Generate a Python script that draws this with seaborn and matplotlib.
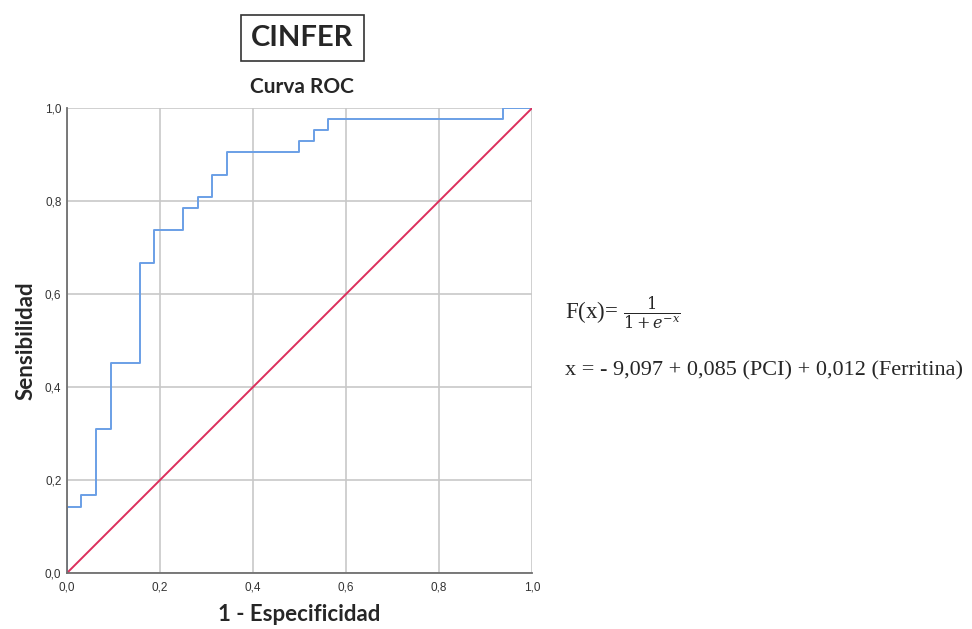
import matplotlib
matplotlib.use('Agg')
import matplotlib.pyplot as plt
import pandas as pd
import seaborn as sns
from matplotlib.ticker import FuncFormatter

# ROC curve (corner points, steps-post)
fpr = [0.0, 0.0, 0.031, 0.062, 0.094, 0.156, 0.188, 0.25, 0.281,
       0.312, 0.344, 0.5, 0.531, 0.562, 0.938, 1.0]
tpr = [0.0, 0.143, 0.167, 0.31, 0.452, 0.667, 0.738, 0.786, 0.81,
       0.857, 0.905, 0.929, 0.952, 0.976, 1.0, 1.0]

# reference diagonal
ref_x = [0.0, 1.0]
ref_y = [0.0, 1.0]

ticks = [0.0, 0.2, 0.4, 0.6, 0.8, 1.0]

roc = pd.DataFrame({'fpr': fpr, 'tpr': tpr})
diag = pd.DataFrame({'x': ref_x, 'y': ref_y})

sns.set_style('white')
plt.rcParams['font.family'] = ['Liberation Sans', 'DejaVu Sans']
plt.rcParams['mathtext.fontset'] = 'dejavuserif'

fig = plt.figure(figsize=(9.72, 6.29), dpi=100)
ax = fig.add_axes([0.0689, 0.089, 0.4784, 0.739])

ax.grid(True, color='#c8c8c8', linewidth=1.2)
ax.set_axisbelow(True)

sns.lineplot(data=roc, x='fpr', y='tpr', sort=False, estimator=None,
             drawstyle='steps-post', color='#6a9fe6', linewidth=1.4, ax=ax)
sns.lineplot(data=diag, x='x', y='y', sort=False, estimator=None,
             color='#dc2f5c', linewidth=1.4, ax=ax)

ax.set(xlim=(0, 1), ylim=(0, 1))
ax.set_xticks(ticks)
ax.set_yticks(ticks)
fmt = FuncFormatter(lambda v, p: f'{v:.1f}'.replace('.', ','))
ax.xaxis.set_major_formatter(fmt)
ax.yaxis.set_major_formatter(fmt)
ax.tick_params(axis='both', length=0, labelsize=8.5, colors='#333333', pad=4)
ax.tick_params(axis='x', pad=6)

for side in ['top', 'right']:
    ax.spines[side].set_visible(False)
for side in ['left', 'bottom']:
    ax.spines[side].set_color('#707070')
    ax.spines[side].set_linewidth(1.3)

ax.set_xlabel('1 - Especificidad', family=['Lato', 'DejaVu Sans'],
              fontweight='bold', fontsize=16, labelpad=8)
ax.set_ylabel('Sensibilidad', family=['Lato', 'DejaVu Sans'],
              fontweight='bold', fontsize=16, labelpad=6)

# titles
fig.text(0.311, 0.94, 'CINFER', family=['Lato', 'DejaVu Sans'],
         fontweight='bold', fontsize=21, ha='center', va='center',
         bbox=dict(boxstyle='square,pad=0.35', facecolor='white',
                   edgecolor='#333333', linewidth=1.2))
fig.text(0.311, 0.862, 'Curva ROC', family=['Lato', 'DejaVu Sans'],
         fontweight='bold', fontsize=15, ha='center', va='center')

# model equations
fig.text(0.581, 0.502, r'F(x)= $\frac{1}{1+e^{-x}}$',
         family=['Liberation Serif', 'DejaVu Serif'], fontsize=16.5,
         ha='left', va='center')
fig.text(0.581, 0.411, 'x = - 9,097 + 0,085 (PCI) + 0,012 (Ferritina)',
         family=['Liberation Serif', 'DejaVu Serif'], fontsize=16,
         ha='left', va='center')

fig.savefig('out.png', dpi=100, facecolor='white')
